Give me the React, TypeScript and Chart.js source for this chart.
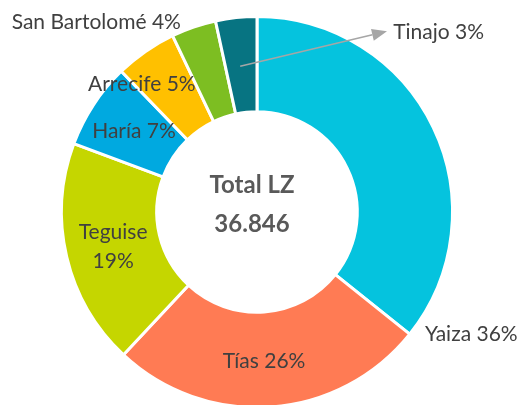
import React, { useEffect, useRef } from "react";
import { Chart, registerables } from "chart.js";

Chart.register(...registerables);

const municipios = ["Yaiza", "Tías", "Teguise", "Haría", "Arrecife", "San Bartolomé", "Tinajo"];
const shares = [35.7, 26.2, 18.7, 7.1, 5.1, 3.7, 3.4];
const colors = ["#05C3DE", "#FF7B54", "#C5D600", "#00A9E0", "#FFC000", "#7DBE22", "#077482"];
const centerTitle = "Total LZ";
const centerValue = "36.846";

const FONT = "Lato, 'Open Sans', sans-serif";

// label centres expressed as fractions of outer radius relative to chart centre
const placement = [
  { fx: 1.096, fy: 0.624, twoLines: false },
  { fx: 0.036, fy: 0.761, twoLines: false },
  { fx: -0.736, fy: 0.18, twoLines: true },
  { fx: -0.629, fy: -0.411, twoLines: false },
  { fx: -0.589, fy: -0.655, twoLines: false },
  { fx: -0.822, fy: -0.97, twoLines: false },
  { fx: 0.929, fy: -0.919, twoLines: false, arrow: { sx: -0.086, sy: -0.746, ex: 0.665, ey: -0.924 } },
];

const labelPlugin = {
  id: "labelPlugin",
  afterDatasetsDraw(chart: any) {
    const ctx = chart.ctx;
    const meta = chart.getDatasetMeta(0);
    const first = meta.data[0];
    const cx = first.x;
    const cy = first.y;
    const R = first.outerRadius;
    const total = shares.reduce((a, b) => a + b, 0);
    ctx.save();
    ctx.textAlign = "center";
    ctx.textBaseline = "middle";
    ctx.fillStyle = "#404040";
    ctx.font = `21px ${FONT}`;
    municipios.forEach((name, i) => {
      const p: any = placement[i];
      const pct = Math.round((shares[i] / total) * 100) + "%";
      const x = cx + p.fx * R;
      const y = cy + p.fy * R;
      if (p.twoLines) {
        ctx.fillText(name, x, y - 14.5);
        ctx.fillText(pct, x, y + 14.5);
      } else {
        ctx.fillText(`${name} ${pct}`, x, y);
      }
      if (p.arrow) {
        const sx = cx + p.arrow.sx * R;
        const sy = cy + p.arrow.sy * R;
        const ex = cx + p.arrow.ex * R;
        const ey = cy + p.arrow.ey * R;
        const ang = Math.atan2(ey - sy, ex - sx);
        const hl = 15;
        const hw = 6;
        ctx.strokeStyle = "#A6A6A6";
        ctx.fillStyle = "#A6A6A6";
        ctx.lineWidth = 1.5;
        ctx.beginPath();
        ctx.moveTo(sx, sy);
        ctx.lineTo(ex - hl * Math.cos(ang), ey - hl * Math.sin(ang));
        ctx.stroke();
        ctx.beginPath();
        ctx.moveTo(ex, ey);
        ctx.lineTo(ex - hl * Math.cos(ang) - hw * Math.sin(ang), ey - hl * Math.sin(ang) + hw * Math.cos(ang));
        ctx.lineTo(ex - hl * Math.cos(ang) + hw * Math.sin(ang), ey - hl * Math.sin(ang) - hw * Math.cos(ang));
        ctx.closePath();
        ctx.fill();
        ctx.fillStyle = "#404040";
      }
    });
    ctx.fillStyle = "#595959";
    ctx.font = `bold 24px ${FONT}`;
    ctx.fillText(centerTitle, cx - 5, cy - 27);
    ctx.fillText(centerValue, cx - 5, cy + 12);
    ctx.restore();
  },
};

export default function App() {
  const ref = useRef<HTMLCanvasElement | null>(null);
  useEffect(() => {
    if (!ref.current) return;
    const chart = new Chart(ref.current, {
      type: "doughnut",
      data: {
        labels: municipios,
        datasets: [
          {
            data: shares,
            backgroundColor: colors,
            borderColor: "#FFFFFF",
            borderWidth: 3,
          },
        ],
      },
      options: {
        responsive: false,
        animation: false,
        devicePixelRatio: 1,
        cutout: "51.3%",
        layout: { padding: { left: 60, right: 71, top: 15, bottom: 3 } },
        plugins: { legend: { display: false }, tooltip: { enabled: false } },
      },
      plugins: [labelPlugin],
    });
    return () => chart.destroy();
  }, []);
  return (
    <div style={{ position: "fixed", left: 0, top: 0, width: 525, height: 405, overflow: "hidden", background: "#fff" }}>
      <canvas ref={ref} width={525} height={412} style={{ width: 525, height: 412, display: "block" }} />
    </div>
  );
}
